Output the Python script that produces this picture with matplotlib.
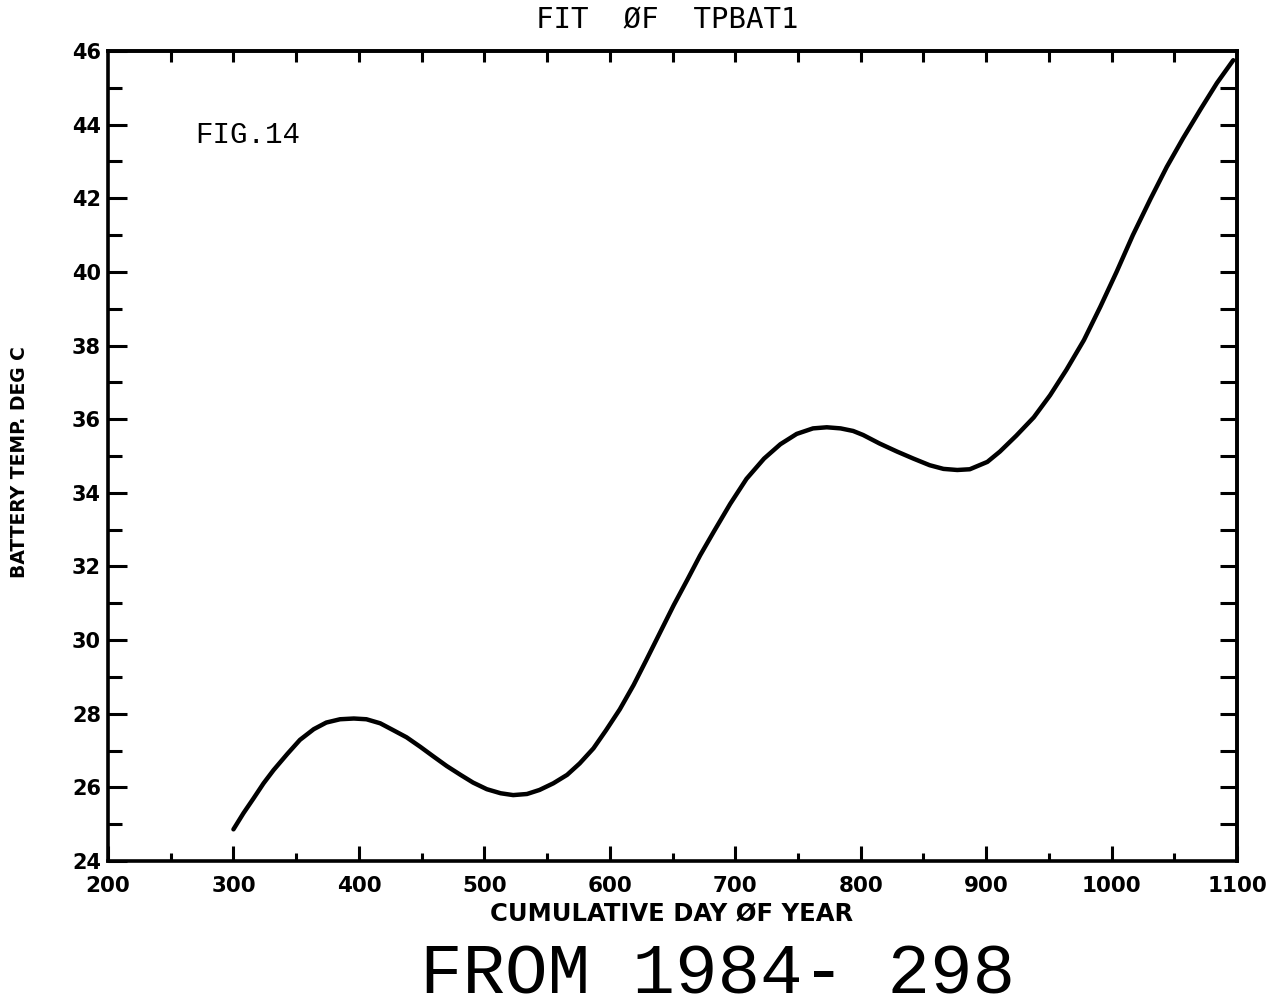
import matplotlib
matplotlib.use("Agg")
import matplotlib.pyplot as plt
import numpy as np
from matplotlib.ticker import MultipleLocator, NullLocator

# Data (day, battery temperature)
day = [300, 308, 316, 324, 332, 343, 353, 364, 374, 385, 396, 406, 417, 427,
       438, 449, 459, 470, 481, 491, 502, 513, 523, 534, 544, 555, 566, 576,
       587, 597, 608, 619, 629, 640, 651, 662, 672, 683, 696, 709, 723, 736,
       749, 762, 773, 784, 794, 802, 815, 829, 842, 855, 866, 877, 887, 901,
       911, 924, 938, 951, 964, 978, 991, 1004, 1017, 1031, 1044, 1057, 1071,
       1084, 1097]
temp = [24.86, 25.3, 25.7, 26.11, 26.47, 26.91, 27.29, 27.58, 27.76, 27.85,
        27.87, 27.85, 27.74, 27.56, 27.36, 27.1, 26.85, 26.58, 26.34, 26.13,
        25.95, 25.84, 25.79, 25.82, 25.93, 26.11, 26.34, 26.65, 27.06, 27.55,
        28.12, 28.78, 29.45, 30.2, 30.95, 31.65, 32.3, 32.95, 33.7, 34.38,
        34.93, 35.32, 35.6, 35.75, 35.78, 35.75, 35.68, 35.57, 35.34, 35.12,
        34.93, 34.75, 34.65, 34.62, 34.64, 34.84, 35.12, 35.55, 36.05, 36.65,
        37.34, 38.15, 39.05, 40.0, 41.0, 41.98, 42.85, 43.63, 44.42, 45.13,
        45.75]

x_ticks = [200, 300, 400, 500, 600, 700, 800, 900, 1000, 1100]
y_ticks = [24, 26, 28, 30, 32, 34, 36, 38, 40, 42, 44, 46]

W, H = 1279, 1006
fig = plt.figure(figsize=(W / 100, H / 100), dpi=100)
fig.patch.set_facecolor("white")
ax = fig.add_axes([108 / W, 1 - 861 / H, (1237 - 108) / W, (861 - 51) / H])

ax.plot(day, temp, color="black", lw=3.2, solid_capstyle="round",
        solid_joinstyle="round")
ax.set_xlim(200, 1100)
ax.set_ylim(24, 46)

for s in ax.spines.values():
    s.set_linewidth(2.6)

tickfont = dict(family="DejaVu Sans", weight="bold", size=15.5)
ax.set_xticks(x_ticks)
ax.set_xticklabels([str(v) for v in x_ticks], **tickfont)
ax.set_yticks(y_ticks)
ax.set_yticklabels([str(v) for v in y_ticks], **dict(tickfont, size=15))
ax.xaxis.set_minor_locator(MultipleLocator(50))
ax.yaxis.set_minor_locator(MultipleLocator(1))
ax.tick_params(axis="x", which="major", direction="in", length=11, width=2.2, pad=11,
               top=False, bottom=True)
ax.tick_params(axis="x", which="minor", direction="in", length=6, width=2.2,
               top=False, bottom=True)
ax.tick_params(axis="y", which="major", direction="in", length=14, width=2.2, pad=5,
               right=False, left=True)
ax.tick_params(axis="y", which="minor", direction="in", length=10, width=2.2,
               right=False, left=True)

# top axis ticks
sx = ax.secondary_xaxis("top")
sx.set_xticks(np.arange(250, 1100, 50))
sx.tick_params(direction="in", length=8, width=2.2, labeltop=False)
sx.xaxis.set_minor_locator(NullLocator())
sx.spines["top"].set_linewidth(2.6)
# right axis ticks
sy = ax.secondary_yaxis("right")
sy.set_yticks(np.arange(25, 46, 1))
sy.tick_params(direction="in", length=12, width=2.2, labelright=False)
sy.yaxis.set_minor_locator(NullLocator())
sy.spines["right"].set_linewidth(2.6)

fig.text(667 / W, 1 - 20 / H, "FIT  ØF  TPBAT1", ha="center", va="center",
         family="DejaVu Sans Mono", size=21)
fig.text(672 / W, 1 - 914 / H, "CUMULATIVE DAY ØF YEAR", ha="center", va="center",
         family="DejaVu Sans", weight="bold", size=17.5)
fig.text(20 / W, 1 - 462 / H, "BATTERY TEMP. DEG C", ha="center", va="center",
         rotation=90, family="DejaVu Sans", weight="bold", size=13.5)
fig.text(195 / W, 1 - 135 / H, "FIG.14", ha="left", va="center",
         family="Liberation Mono", size=21)
fig.text(718 / W, 1 - 975 / H, "FROM 1984- 298", ha="center", va="center",
         family="Liberation Mono", size=51)

fig.savefig("out.png", dpi=100, facecolor="white")
